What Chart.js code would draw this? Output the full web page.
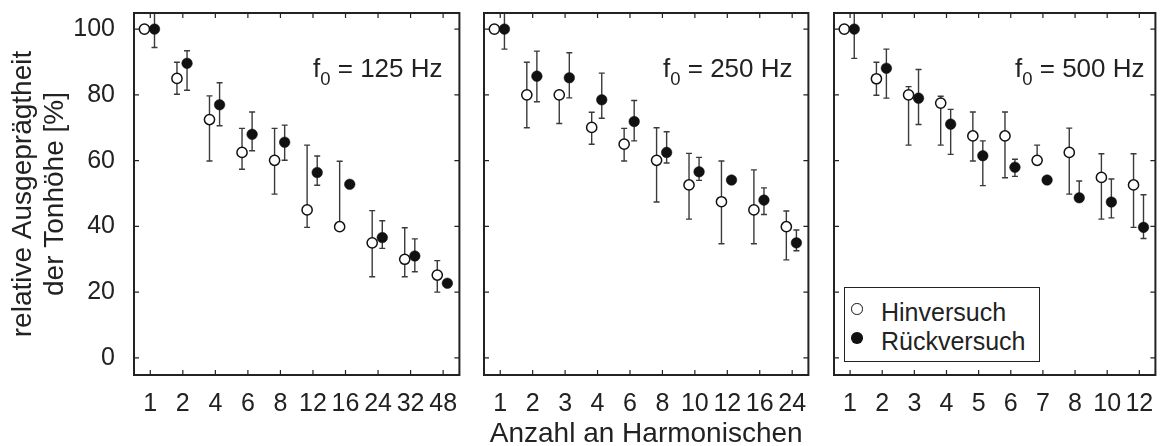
<!DOCTYPE html>
<html>
<head>
<meta charset="utf-8">
<script src="https://cdn.jsdelivr.net/npm/chart.js@4.4.1/dist/chart.umd.min.js"></script>
<style>
  body { margin: 0; background: #fff; }
  #wrap { position: relative; width: 1162px; height: 446px; overflow: hidden;
          font-family: Arial, "Liberation Sans", sans-serif; color: #222; }
  canvas { position: absolute; top: 0; }
  .f0 { position: absolute; top: 55px; font-size: 26px; line-height: 26px; white-space: nowrap; }
  .f0 sub { font-size: 18.5px; line-height: 0; vertical-align: -8px; }
  #legend { position: absolute; left: 844px; top: 287px; width: 196px; height: 75px;
            box-sizing: border-box; border: 1px solid #222; background: #fff; }
  .lg-txt { position: absolute; left: 881px; font-size: 25px; line-height: 29px; white-space: nowrap; }
  .lg-sym { position: absolute; width: 11.5px; height: 11.5px; border-radius: 50%; box-sizing: border-box; }
</style>
</head>
<body>
<div id="wrap">
  <canvas id="c125" width="466" height="446" style="left:0px"></canvas>
  <canvas id="c250" width="345" height="446" style="left:470px"></canvas>
  <canvas id="c500" width="342" height="446" style="left:820px"></canvas>

  <div class="f0" style="left:313px">f<sub>0</sub> = 125 Hz</div>
  <div class="f0" style="left:663px">f<sub>0</sub> = 250 Hz</div>
  <div class="f0" style="left:1015px">f<sub>0</sub> = 500 Hz</div>

  <div id="legend"></div>
  <div class="lg-sym" style="left:851px; top:303px; border:1.5px solid #111; background:#fff"></div>
  <div class="lg-txt" style="top:298px">Hinversuch</div>
  <div class="lg-sym" style="left:851px; top:332px; background:#111"></div>
  <div class="lg-txt" style="top:327px">Rückversuch</div>
</div>

<script>
// f0 = 125 Hz
const cats125 = ['1', '2', '4', '6', '8', '12', '16', '24', '32', '48'];
const hin125 = [100, 85.0, 72.5, 62.5, 60.1, 45.0, 39.9, 35.0, 30.0, 25.2];
const hin125Lo = [null, 80.2, 59.9, 57.4, 49.8, 39.7, null, 24.7, 24.7, 20.0];
const hin125Hi = [null, 89.9, 79.7, 69.8, 69.8, 64.7, 59.8, 44.8, 39.6, 29.6];
const rueck125 = [100, 89.6, 77.0, 68.0, 65.6, 56.4, 52.8, 36.6, 31.0, 22.7];
const rueck125Lo = [94.4, 81.4, 70.6, 63.0, 60.1, 52.5, null, 33.3, 26.2, null];
const rueck125Hi = [105.6, 93.4, 83.7, 74.8, 70.8, 61.4, null, 41.7, 36.2, null];

// f0 = 250 Hz
const cats250 = ['1', '2', '3', '4', '6', '8', '10', '12', '16', '24'];
const hin250 = [100, 80.0, 80.0, 70.1, 65.0, 60.1, 52.6, 47.5, 45.0, 39.9];
const hin250Lo = [null, 70.0, 71.3, 65.0, 59.9, 47.4, 42.2, 34.7, 34.7, 29.8];
const hin250Hi = [null, 89.9, null, 74.7, 69.8, 70.0, 62.2, 59.9, 57.2, 44.7];
const rueck250 = [100, 85.7, 85.2, 78.5, 71.9, 62.5, 56.6, 54.1, 48.0, 35.0];
const rueck250Lo = [93.9, 77.9, 79.1, 72.9, 66.0, 59.3, 54.0, null, 43.6, 32.6];
const rueck250Hi = [106.1, 93.3, 92.8, 86.6, 78.3, 68.8, 61.0, null, 51.7, 38.9];

// f0 = 500 Hz
const cats500 = ['1', '2', '3', '4', '5', '6', '7', '8', '10', '12'];
const hin500 = [100, 84.9, 80.0, 77.5, 67.5, 67.5, 60.1, 62.5, 54.9, 52.6];
const hin500Lo = [null, 79.9, 64.7, 64.7, 59.9, 54.8, null, 49.8, 42.2, 39.7];
const hin500Hi = [null, 89.9, 82.5, 79.6, 74.8, 74.8, 64.7, 69.9, 62.1, 62.1];
const rueck500 = [100, 88.1, 79.0, 71.1, 61.5, 58.0, 54.1, 48.7, 47.4, 39.7];
const rueck500Lo = [91.1, 79.0, 71.0, 61.9, 52.4, 55.2, null, null, 42.6, 36.3];
const rueck500Hi = [108.9, 93.9, 87.7, 75.6, 66.0, 60.4, null, 53.8, 54.4, 49.6];

const yTicks = [0, 20, 40, 60, 80, 100];
const seriesNames = ['Hinversuch', 'Rückversuch'];

const INK = '#222';
const FONT = 'Arial, "Liberation Sans", sans-serif';

// error bars, drawn under the markers
const errorBars = {
    id: 'errorBars',
    beforeDatasetsDraw(chart) {
        const { ctx, chartArea, scales } = chart;
        ctx.save();
        ctx.beginPath();
        ctx.rect(chartArea.left, chartArea.top, chartArea.width, chartArea.height);
        ctx.clip();
        ctx.strokeStyle = '#3a3a3a';
        ctx.lineWidth = 1.4;
        chart.data.datasets.forEach(ds => {
            ds.data.forEach((p, i) => {
                const lo = ds.lo[i];
                const hi = ds.hi[i];
                if (lo == null && hi == null) return;
                const px = scales.x.getPixelForValue(p.x);
                const pLo = scales.y.getPixelForValue(lo == null ? p.y : lo);
                const pHi = scales.y.getPixelForValue(hi == null ? p.y : hi);
                ctx.beginPath();
                ctx.moveTo(px, pLo);
                ctx.lineTo(px, pHi);
                if (lo != null) { ctx.moveTo(px - 3, pLo); ctx.lineTo(px + 3, pLo); }
                if (hi != null) { ctx.moveTo(px - 3, pHi); ctx.lineTo(px + 3, pHi); }
                ctx.stroke();
            });
        });
        ctx.restore();
    }
};

// box round the plot plus inward ticks on all four sides
const frameTicks = {
    id: 'frameTicks',
    afterDatasetsDraw(chart) {
        const { ctx, chartArea: a, scales } = chart;
        ctx.save();
        ctx.strokeStyle = INK;
        ctx.lineWidth = 1.2;
        ctx.beginPath();
        scales.x.ticks.forEach(t => {
            const px = scales.x.getPixelForValue(t.value);
            ctx.moveTo(px, a.bottom); ctx.lineTo(px, a.bottom - 5);
            ctx.moveTo(px, a.top); ctx.lineTo(px, a.top + 5);
        });
        scales.y.ticks.forEach(t => {
            const py = scales.y.getPixelForValue(t.value);
            ctx.moveTo(a.left, py); ctx.lineTo(a.left + 5, py);
            ctx.moveTo(a.right, py); ctx.lineTo(a.right - 5, py);
        });
        ctx.stroke();
        ctx.lineWidth = 2;
        ctx.strokeRect(a.left, a.top, a.right - a.left, a.bottom - a.top);
        ctx.restore();
    }
};

// keep the plot box fixed: no extra room for the end labels
function noEdgePadding(scale) {
    scale.paddingTop = 0;
    scale.paddingBottom = 0;
    scale.paddingLeft = 0;
    scale.paddingRight = 0;
}

function makePanel(id, cats, hin, hinLo, hinHi, rueck, rueckLo, rueckHi, opts) {
    const ctx = document.getElementById(id).getContext('2d');
    return new Chart(ctx, {
        type: 'scatter',
        data: {
            datasets: [
                {
                    label: seriesNames[0],
                    data: hin.map((v, i) => ({ x: i - 0.18, y: v })),
                    lo: hinLo,
                    hi: hinHi,
                    order: 1,
                    pointRadius: 5.1,
                    pointBackgroundColor: '#fff',
                    pointBorderColor: '#111',
                    pointBorderWidth: 1.5
                },
                {
                    label: seriesNames[1],
                    data: rueck.map((v, i) => ({ x: i + 0.13, y: v })),
                    lo: rueckLo,
                    hi: rueckHi,
                    order: 0,
                    pointRadius: 5.3,
                    pointBackgroundColor: '#111',
                    pointBorderColor: '#111',
                    pointBorderWidth: 0.5
                }
            ]
        },
        options: {
            responsive: false,
            animation: false,
            events: [],
            layout: { padding: { top: 13, right: opts.padRight, bottom: 0, left: 0 } },
            plugins: { legend: { display: false }, tooltip: { enabled: false } },
            scales: {
                x: {
                    type: 'linear',
                    min: -0.5,
                    max: 9.5,
                    grid: { display: false },
                    border: { display: false },
                    afterBuildTicks: scale => { scale.ticks = cats.map((c, i) => ({ value: i })); },
                    afterFit: scale => { scale.height = 71; noEdgePadding(scale); },
                    ticks: {
                        autoSkip: false,
                        maxRotation: 0,
                        padding: 6,
                        color: INK,
                        font: { family: FONT, size: 25 },
                        callback: value => cats[value]
                    },
                    title: {
                        display: !!opts.xTitle,
                        text: opts.xTitle || '',
                        color: INK,
                        font: { family: FONT, size: 28, lineHeight: 0.85 },
                        padding: { top: 0, bottom: 0 }
                    }
                },
                y: {
                    min: -5.2,
                    max: 104.9,
                    grid: { display: false },
                    border: { display: false },
                    afterBuildTicks: scale => { scale.ticks = yTicks.map(v => ({ value: v })); },
                    afterFit: scale => { scale.width = opts.yWidth; noEdgePadding(scale); },
                    ticks: {
                        display: !!opts.yLabels,
                        padding: 11,
                        color: INK,
                        font: { family: FONT, size: 25 }
                    },
                    title: {
                        display: !!opts.yTitle,
                        text: opts.yTitle || '',
                        color: INK,
                        font: { family: FONT, size: 28, lineHeight: 1.12 },
                        padding: { top: 8, bottom: 0 }
                    }
                }
            }
        },
        plugins: [errorBars, frameTicks]
    });
}

makePanel('c125', cats125, hin125, hin125Lo, hin125Hi, rueck125, rueck125Lo, rueck125Hi, {
    padRight: 5, yWidth: 134, yLabels: true,
    yTitle: ['relative Ausgeprägtheit', 'der Tonhöhe [%]']
});
makePanel('c250', cats250, hin250, hin250Lo, hin250Hi, rueck250, rueck250Lo, rueck250Hi, {
    padRight: 4, yWidth: 14, xTitle: 'Anzahl an Harmonischen'
});
makePanel('c500', cats500, hin500, hin500Lo, hin500Hi, rueck500, rueck500Lo, rueck500Hi, {
    padRight: 1, yWidth: 14
});
</script>
</body>
</html>
